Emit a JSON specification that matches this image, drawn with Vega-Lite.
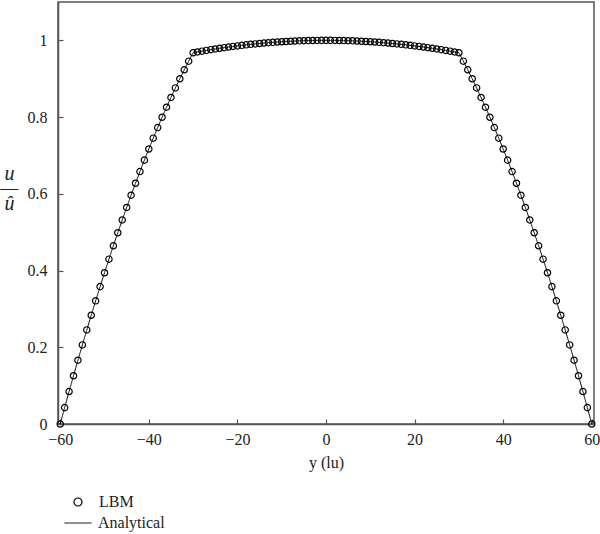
{
  "$schema": "https://vega.github.io/schema/vega-lite/v6.json",
  "width": 536,
  "height": 422,
  "autosize": {"type": "none"},
  "padding": {"left": 58, "top": 2, "right": 6, "bottom": 110},
  "config": {
    "font": "Liberation Serif",
    "view": {"stroke": "#555555", "strokeWidth": 1.5},
    "axis": {
      "domainColor": "#555555",
      "domainWidth": 1.5,
      "tickColor": "#555555",
      "tickWidth": 1.2,
      "tickSize": -5,
      "grid": false,
      "labelFont": "Liberation Serif",
      "labelFontSize": 16,
      "labelColor": "#222222",
      "titleFont": "Liberation Serif",
      "titleColor": "#222222",
      "titleFontWeight": "normal"
    },
    "legend": {
      "labelFont": "Liberation Serif",
      "labelFontSize": 16,
      "labelColor": "#222222",
      "padding": 0
    }
  },
  "data": {
    "values": [
      {"y": -60, "u": 0}, {"y": -59, "u": 0.0427}, {"y": -58, "u": 0.0846}, {"y": -57, "u": 0.1258},
      {"y": -56, "u": 0.1663}, {"y": -55, "u": 0.2061}, {"y": -54, "u": 0.2452}, {"y": -53, "u": 0.2835},
      {"y": -52, "u": 0.3211}, {"y": -51, "u": 0.3581}, {"y": -50, "u": 0.3943}, {"y": -49, "u": 0.4297},
      {"y": -48, "u": 0.4645}, {"y": -47, "u": 0.4986}, {"y": -46, "u": 0.5319}, {"y": -45, "u": 0.5645},
      {"y": -44, "u": 0.5964}, {"y": -43, "u": 0.6276}, {"y": -42, "u": 0.658}, {"y": -41, "u": 0.6878},
      {"y": -40, "u": 0.7168}, {"y": -39, "u": 0.7451}, {"y": -38, "u": 0.7727}, {"y": -37, "u": 0.7996},
      {"y": -36, "u": 0.8258}, {"y": -35, "u": 0.8512}, {"y": -34, "u": 0.876}, {"y": -33, "u": 0.9},
      {"y": -32, "u": 0.9233}, {"y": -31, "u": 0.9458}, {"y": -30, "u": 0.9677}, {"y": -29, "u": 0.9698},
      {"y": -28, "u": 0.9719}, {"y": -27, "u": 0.9738}, {"y": -26, "u": 0.9757}, {"y": -25, "u": 0.9776},
      {"y": -24, "u": 0.9793}, {"y": -23, "u": 0.981}, {"y": -22, "u": 0.9826}, {"y": -21, "u": 0.9842},
      {"y": -20, "u": 0.9856}, {"y": -19, "u": 0.987}, {"y": -18, "u": 0.9884}, {"y": -17, "u": 0.9896},
      {"y": -16, "u": 0.9908}, {"y": -15, "u": 0.9919}, {"y": -14, "u": 0.993}, {"y": -13, "u": 0.9939},
      {"y": -12, "u": 0.9948}, {"y": -11, "u": 0.9957}, {"y": -10, "u": 0.9964}, {"y": -9, "u": 0.9971},
      {"y": -8, "u": 0.9977}, {"y": -7, "u": 0.9982}, {"y": -6, "u": 0.9987}, {"y": -5, "u": 0.9991},
      {"y": -4, "u": 0.9994}, {"y": -3, "u": 0.9997}, {"y": -2, "u": 0.9999}, {"y": -1, "u": 1.0},
      {"y": 0, "u": 1.0},
      {"y": 1, "u": 1.0}, {"y": 2, "u": 0.9999}, {"y": 3, "u": 0.9997}, {"y": 4, "u": 0.9994},
      {"y": 5, "u": 0.9991}, {"y": 6, "u": 0.9987}, {"y": 7, "u": 0.9982}, {"y": 8, "u": 0.9977},
      {"y": 9, "u": 0.9971}, {"y": 10, "u": 0.9964}, {"y": 11, "u": 0.9957}, {"y": 12, "u": 0.9948},
      {"y": 13, "u": 0.9939}, {"y": 14, "u": 0.993}, {"y": 15, "u": 0.9919}, {"y": 16, "u": 0.9908},
      {"y": 17, "u": 0.9896}, {"y": 18, "u": 0.9884}, {"y": 19, "u": 0.987}, {"y": 20, "u": 0.9856},
      {"y": 21, "u": 0.9842}, {"y": 22, "u": 0.9826}, {"y": 23, "u": 0.981}, {"y": 24, "u": 0.9793},
      {"y": 25, "u": 0.9776}, {"y": 26, "u": 0.9757}, {"y": 27, "u": 0.9738}, {"y": 28, "u": 0.9719},
      {"y": 29, "u": 0.9698}, {"y": 30, "u": 0.9677}, {"y": 31, "u": 0.9458}, {"y": 32, "u": 0.9233},
      {"y": 33, "u": 0.9}, {"y": 34, "u": 0.876}, {"y": 35, "u": 0.8512}, {"y": 36, "u": 0.8258},
      {"y": 37, "u": 0.7996}, {"y": 38, "u": 0.7727}, {"y": 39, "u": 0.7451}, {"y": 40, "u": 0.7168},
      {"y": 41, "u": 0.6878}, {"y": 42, "u": 0.658}, {"y": 43, "u": 0.6276}, {"y": 44, "u": 0.5964},
      {"y": 45, "u": 0.5645}, {"y": 46, "u": 0.5319}, {"y": 47, "u": 0.4986}, {"y": 48, "u": 0.4645},
      {"y": 49, "u": 0.4297}, {"y": 50, "u": 0.3943}, {"y": 51, "u": 0.3581}, {"y": 52, "u": 0.3211},
      {"y": 53, "u": 0.2835}, {"y": 54, "u": 0.2452}, {"y": 55, "u": 0.2061}, {"y": 56, "u": 0.1663},
      {"y": 57, "u": 0.1258}, {"y": 58, "u": 0.0846}, {"y": 59, "u": 0.0427}, {"y": 60, "u": 0}
    ]
  },
  "encoding": {
    "x": {
      "field": "y",
      "type": "quantitative",
      "scale": {"domain": [-60.5, 60.5], "nice": false, "zero": false},
      "axis": {
        "values": [-60, -40, -20, 0, 20, 40, 60],
        "title": "y (lu)",
        "titleFontSize": 16,
        "titlePadding": 7,
        "labelPadding": 12
      }
    },
    "y": {
      "field": "u",
      "type": "quantitative",
      "scale": {"domain": [0, 1.1], "nice": false},
      "axis": {
        "values": [0, 0.2, 0.4, 0.6, 0.8, 1],
        "format": "~g",
        "labelPadding": 16,
        "title": ["u", "—", "û"],
        "titleAngle": 0,
        "titleFontSize": 20,
        "titleFontStyle": "italic",
        "titleAlign": "center",
        "titleBaseline": "middle",
        "titleLineHeight": 15,
        "titleX": -49,
        "titleY": 171
      }
    }
  },
  "layer": [
    {
      "mark": {"type": "line", "color": "black", "strokeWidth": 1},
      "encoding": {
        "strokeDash": {
          "datum": "Analytical",
          "scale": {"range": [[1, 0]]},
          "legend": {
            "title": null,
            "orient": "none",
            "legendX": 6,
            "legendY": 507,
            "symbolType": "stroke",
            "symbolSize": 729,
            "symbolStrokeColor": "black",
            "symbolStrokeWidth": 1,
            "labelOffset": 6
          }
        }
      }
    },
    {
      "mark": {"type": "point", "filled": false, "color": "black", "size": 40, "strokeWidth": 1.2, "opacity": 1},
      "encoding": {
        "shape": {
          "datum": "LBM",
          "scale": {"range": ["circle"]},
          "legend": {
            "title": null,
            "orient": "none",
            "legendX": 12,
            "legendY": 492,
            "symbolSize": 64,
            "symbolStrokeColor": "black",
            "symbolStrokeWidth": 1.2,
            "symbolFillColor": "transparent",
            "labelOffset": 13
          }
        }
      }
    }
  ]
}
